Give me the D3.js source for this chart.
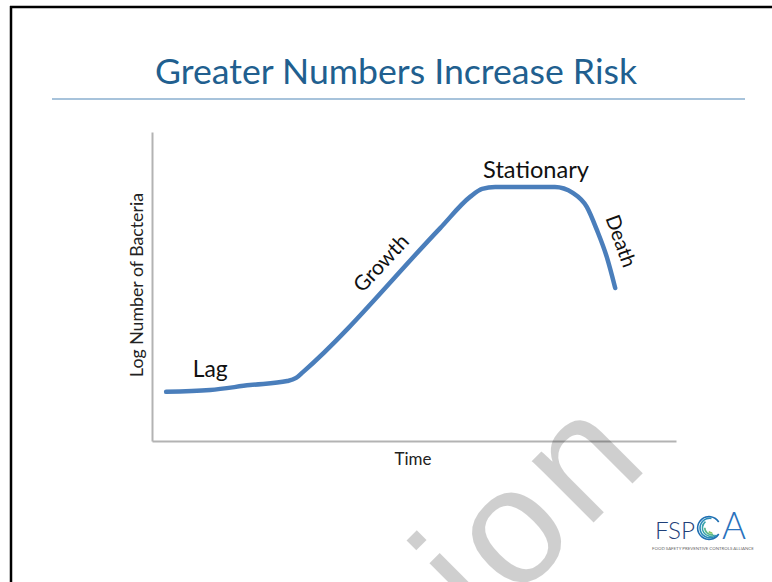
<!DOCTYPE html>
<html>
<head>
<meta charset="utf-8">
<script src="https://cdn.jsdelivr.net/npm/d3@7"></script>
<style>
  html, body { margin: 0; padding: 0; background: #fff; }
  svg { display: block; }
</style>
</head>
<body>
<svg id="chart" width="772" height="582"></svg>
<script>
// ---- data ----
const title = "Greater Numbers Increase Risk";
const xLabel = "Time";
const yLabel = "Log Number of Bacteria";
const timePts  = [2.7, 11.1, 18.7, 25.8, 27.5, 28.8, 55.0, 60.7, 63.0, 65.5, 76.9, 80.3, 83.0, 84.9, 86.8, 88.4];
const logCount = [1.59, 1.65, 1.81, 1.94, 2.04, 2.23, 6.89, 7.90, 8.16, 8.22, 8.22, 8.03, 7.57, 6.83, 5.95, 4.95];
const phaseNames = ["Lag", "Growth", "Stationary", "Death"];
const phaseTime  = [11.1, 43.7, 73.3, 89.5];
const phaseLog   = [2.33, 5.76, 8.77, 6.47];
const phaseAngle = [0, -47, 0, 70];
const phaseWidth = [35, 70, 106, 54];

const svg = d3.select("#chart");
const FONT = "Lato, 'Open Sans', sans-serif";

function fitWidth(sel, w) {
  const L = sel.node().getComputedTextLength();
  const fs = parseFloat(sel.attr("font-size"));
  sel.attr("font-size", fs * w / L);
  return sel;
}

// slide frame
svg.append("line").attr("x1", 10).attr("x2", 772).attr("y1", 7).attr("y2", 7)
  .attr("stroke", "#000").attr("stroke-width", 2.5);
svg.append("line").attr("x1", 11).attr("x2", 11).attr("y1", 6).attr("y2", 582)
  .attr("stroke", "#000").attr("stroke-width", 2.5);

// title
const t = svg.append("text").attr("x", 396).attr("y", 84)
  .attr("text-anchor", "middle").attr("font-family", FONT).attr("font-size", 34)
  .attr("fill", "#215f8f").text(title);
fitWidth(t, 482);
svg.append("line").attr("x1", 52).attr("x2", 745).attr("y1", 99).attr("y2", 99)
  .attr("stroke", "#a7c3db").attr("stroke-width", 2);

// scales
const x = d3.scaleLinear().domain([0, 100]).range([152, 676]);
const y = d3.scaleLinear().domain([0, 10]).range([441, 132]);

// axes (no ticks)
const gx = svg.append("g").attr("transform", `translate(0,${y(0)})`)
  .call(d3.axisBottom(x).tickValues([]).tickSizeOuter(0));
const gy = svg.append("g").attr("transform", `translate(${x(0)},0)`)
  .call(d3.axisLeft(y).tickValues([]).tickSizeOuter(0));
[gx, gy].forEach(g => g.select(".domain").attr("stroke", "#b3b3b3").attr("stroke-width", 2));

// axis labels
const xl = svg.append("text").attr("x", 413).attr("y", 465).attr("text-anchor", "middle")
  .attr("font-family", FONT).attr("font-size", 16).attr("fill", "#222").text(xLabel);
fitWidth(xl, 37);
const yl = svg.append("text").attr("transform", "translate(143,285) rotate(-90)")
  .attr("text-anchor", "middle").attr("font-family", FONT).attr("font-size", 16)
  .attr("fill", "#222").text(yLabel);
fitWidth(yl, 184);

// curve
const pts = timePts.map((d, i) => [d, logCount[i]]);
svg.append("path").datum(pts)
  .attr("fill", "none").attr("stroke", "#4a7ebb").attr("stroke-width", 4.5)
  .attr("stroke-linecap", "round").attr("stroke-linejoin", "round")
  .attr("d", d3.line().x(d => x(d[0])).y(d => y(d[1])).curve(d3.curveMonotoneX));

// phase labels
phaseNames.forEach((name, i) => {
  const tx = svg.append("text")
    .attr("transform", `translate(${x(phaseTime[i])},${y(phaseLog[i])}) rotate(${phaseAngle[i]})`)
    .attr("text-anchor", "middle").attr("dy", "0.35em")
    .attr("font-family", FONT).attr("font-size", 20).attr("fill", "#111").text(name);
  fitWidth(tx, phaseWidth[i]);
});

// logo
const logo = svg.append("g");
const fsp = logo.append("text").attr("x", 655).attr("y", 539).attr("font-family", FONT)
  .attr("font-weight", 300).attr("font-size", 30).attr("fill", "#1f3f78").text("FSP");
fitWidth(fsp, 40);
const arcColors = ["#1f6fb2", "#2a8cb9", "#39a3ab", "#5bb78b", "#86c663"];
arcColors.forEach((c, i) => {
  const r = 11.5 - i * 1.6;
  const gap = 0.55 + i * 0.25;
  logo.append("path")
    .attr("d", d3.arc().innerRadius(r - 0.9).outerRadius(r + 0.7)
      .startAngle(Math.PI * 0.5 + gap).endAngle(Math.PI * 2.5 - gap - i * 0.6)())
    .attr("transform", `translate(${709 + i * 0.8},${528})`)
    .attr("fill", c);
});
const aL = logo.append("text").attr("x", 722).attr("y", 539).attr("font-family", FONT)
  .attr("font-weight", 300).attr("font-size", 30).attr("fill", "#2a72bd").text("A");
fitWidth(aL, 24);
const small = logo.append("text").attr("x", 652).attr("y", 550).attr("font-family", FONT)
  .attr("font-size", 4).attr("fill", "#666").text("FOOD SAFETY PREVENTIVE CONTROLS ALLIANCE");
fitWidth(small, 102);

// watermark
svg.append("text").attr("transform", "translate(656,460) rotate(-45)")
  .attr("text-anchor", "end").attr("font-family", "'Liberation Sans', Arial, sans-serif")
  .attr("letter-spacing", 8)
  .attr("font-size", 165).attr("fill", "#000").attr("fill-opacity", 0.19).text("Version");
</script>
</body>
</html>
